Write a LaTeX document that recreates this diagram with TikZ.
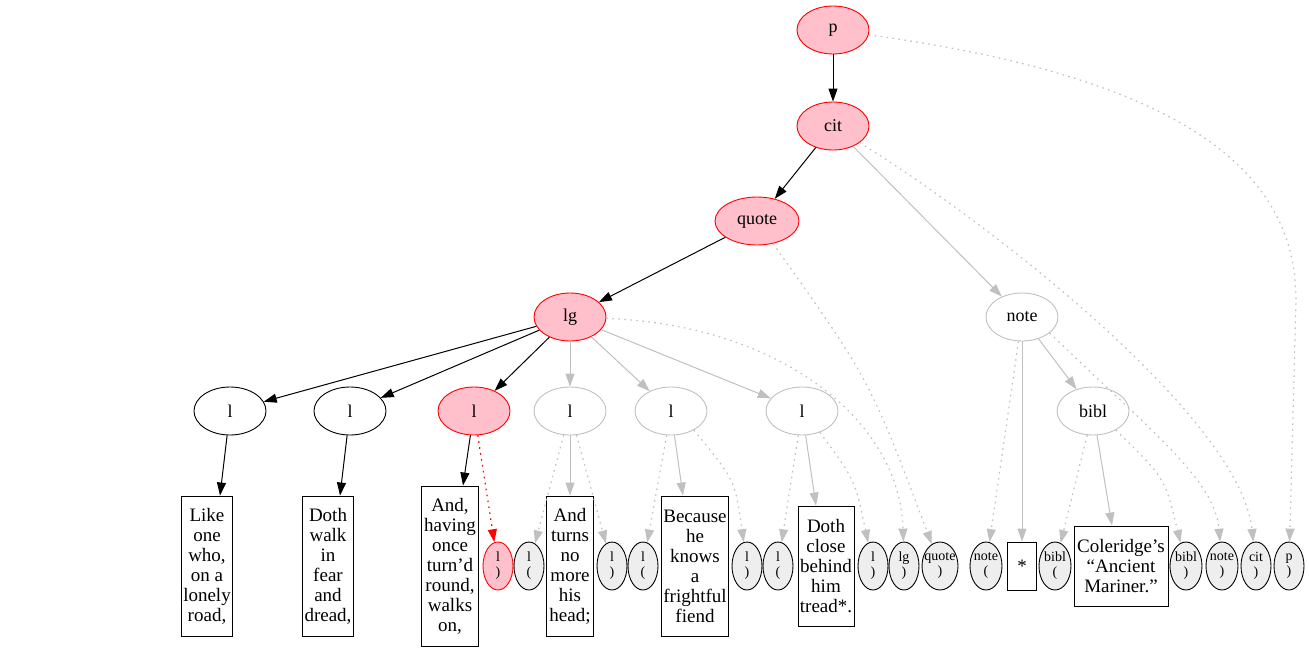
\documentclass[tikz,border=0pt]{standalone}
\usepackage{fontspec}
\setmainfont{Liberation Serif}
\usetikzlibrary{shapes.geometric, arrows.meta}
\definecolor{pinkfill}{RGB}{255,192,203}
\definecolor{greyline}{RGB}{192,192,192}
\definecolor{tagfill}{RGB}{238,238,238}

\begin{document}
\begin{tikzpicture}[>= {Triangle[length = 13pt, width = 9pt]}, x = 1pt, y = -1pt,
    every node/.style = {line width = .9pt},
    elem/.style = {ellipse, draw, minimum width = 72pt, minimum height = 48pt, inner sep = 0pt, font = \fontsize{18}{20}\selectfont},
    done/.style = {elem, draw = red, fill = pinkfill},
    seen/.style = {elem, draw = black},
    ahead/.style = {elem, draw = greyline},
    tag/.style = {ellipse, draw = black, fill = tagfill, minimum width = 30pt, minimum height = 48pt, inner xsep = -3pt, inner ysep = 0pt, align = center, font = \fontsize{14}{15}\selectfont},
    tagnow/.style = {tag, draw = red, fill = pinkfill},
    verse/.style = {rectangle, draw = black, align = center, inner sep = 0pt, font = \fontsize{19}{20}\selectfont},
    tree/.style = {->, line width = 1pt, black},
    treeon/.style = {->, line width = 1pt, greyline},
    jump/.style = {->, line width = 1.2pt, greyline, dash pattern = on 1.6pt off 4.4pt},
    jumpnow/.style = {jump, red}]
    \useasboundingbox (0, 0) rectangle (1309, 653);

    % element nodes
    \node [done] (p) at (833, 30) {p};
    \node [done] (cit) at (833, 126) {cit};
    \node [done, minimum width = 84pt] (quote) at (757, 221) {quote};
    \node [done] (lg) at (570, 317) {lg};
    \node [ahead] (note) at (1022, 317) {note};
    \node [seen] (la) at (230, 411) {l};
    \node [seen] (lb) at (350, 411) {l};
    \node [done] (lc) at (474, 411) {l};
    \node [ahead] (ld) at (570, 411) {l};
    \node [ahead] (le) at (671, 411) {l};
    \node [ahead] (lf) at (802, 411) {l};
    \node [ahead] (bibl) at (1093, 411) {bibl};

    % text and tag row
    \node [verse, minimum width = 51pt, minimum height = 140pt] (va) at (207, 566) {Like\\one\\who,\\on a\\lonely\\road,};
    \node [verse, minimum width = 51pt, minimum height = 140pt] (vb) at (328, 566) {Doth\\walk\\in\\fear\\and\\dread,};
    \node [verse, minimum width = 57pt, minimum height = 160pt] (vc) at (450, 566) {And,\\having\\once\\turn’d\\round,\\walks\\on,};
    \node [tagnow] (lcend) at (498, 566) {l\\)};
    \node [tag] (ldbeg) at (529, 566) {l\\(};
    \node [verse, minimum width = 47pt, minimum height = 140pt] (vd) at (570, 566) {And\\turns\\no\\more\\his\\head;};
    \node [tag] (ldend) at (612, 566) {l\\)};
    \node [tag] (lebeg) at (643, 566) {l\\(};
    \node [verse, minimum width = 67pt, minimum height = 140pt] (ve) at (695, 566) {Because\\he\\knows\\a\\frightful\\fiend};
    \node [tag] (leend) at (747, 566) {l\\)};
    \node [tag] (lfbeg) at (778, 566) {l\\(};
    \node [verse, minimum width = 56pt, minimum height = 120pt] (vf) at (826, 566) {Doth\\close\\behind\\him\\tread*.};
    \node [tag] (lfend) at (873, 566) {l\\)};
    \node [tag] (lgend) at (904, 566) {lg\\)};
    \node [tag, minimum width = 36pt] (quoteend) at (940, 566) {quote\\)};
    \node [tag, minimum width = 32pt] (notebeg) at (986, 566) {note\\(};
    \node [verse, minimum width = 29pt, minimum height = 48pt] (star) at (1022, 566) {*};
    \node [tag, minimum width = 32pt] (biblbeg) at (1055, 566) {bibl\\(};
    \node [verse, minimum width = 94pt, minimum height = 80pt] (mariner) at (1121, 566) {Coleridge’s\\“Ancient\\Mariner.”};
    \node [tag, minimum width = 32pt] (biblend) at (1186, 566) {bibl\\)};
    \node [tag, minimum width = 32pt] (noteend) at (1222, 566) {note\\)};
    \node [tag] (citend) at (1256, 566) {cit\\)};
    \node [tag] (pend) at (1289, 566) {p\\)};

    % edges already read
    \draw [tree] (p) -- (cit);
    \draw [tree] (cit) -- (quote);
    \draw [tree] (quote) -- (lg);
    \draw [tree] (lg) -- (la);
    \draw [tree] (lg) -- (lb);
    \draw [tree] (lg) -- (lc);
    \draw [tree] (la) -- ([xshift = 13pt] va.north);
    \draw [tree] (lb) -- ([xshift = 12pt] vb.north);
    \draw [tree] (lc) -- ([xshift = 13pt] vc.north);
    \draw [jumpnow] (lc) -- (lcend);

    % edges still ahead
    \draw [treeon] (cit) -- (note);
    \draw [treeon] (lg) -- (ld);
    \draw [treeon] (lg) -- (le);
    \draw [treeon] (lg) -- (lf);
    \draw [treeon] (ld) -- (vd.north);
    \draw [treeon] (le) -- ([xshift = -12pt] ve.north);
    \draw [treeon] (lf) -- ([xshift = -10pt] vf.north);
    \draw [treeon] (note) -- (star);
    \draw [treeon] (note) -- (bibl);
    \draw [treeon] (bibl) -- ([xshift = -9pt] mariner.north);

    \draw [jump] (ld) -- (ldbeg);
    \draw [jump] (ld) -- (ldend);
    \draw [jump] (le) -- (lebeg);
    \draw [jump] (le.-40) .. controls (735, 480) .. (leend);
    \draw [jump] (lf) -- (lfbeg);
    \draw [jump] (lf.-50) .. controls (855, 480) .. (lfend);
    \draw [jump] (lg) .. controls (780, 325) and (900, 420) .. (lgend);
    \draw [jump] (quote) .. controls (870, 380) .. (quoteend);
    \draw [jump] (note) -- (notebeg);
    \draw [jump] (bibl) -- (biblbeg);
    \draw [jump] (bibl.-40) .. controls (1165, 478) .. (biblend);
    \draw [jump] (note.-30) .. controls (1150, 430) and (1215, 480) .. (noteend);
    \draw [jump] (cit) .. controls (1000, 230) and (1240, 420) .. (citend);
    \draw [jump] (p) .. controls (1200, 80) and (1296, 180) .. (1296, 300) -- (pend);
\end{tikzpicture}
\end{document}
